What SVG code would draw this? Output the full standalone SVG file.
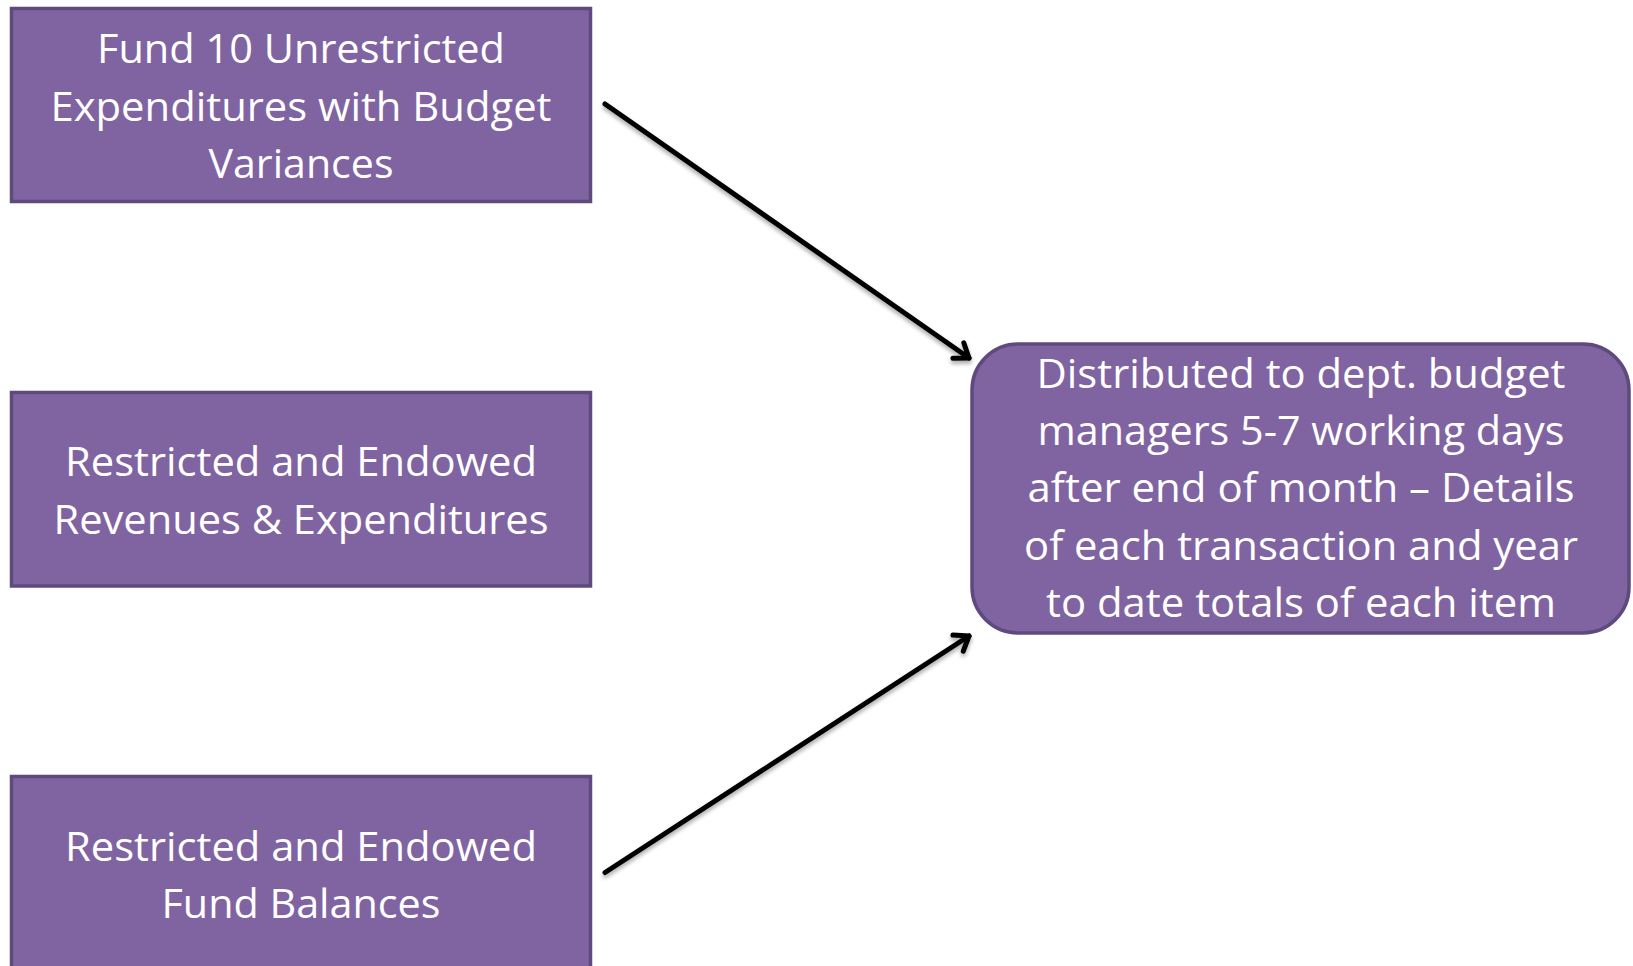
<svg xmlns="http://www.w3.org/2000/svg" width="1633" height="966" viewBox="0 0 1633 966">
<style>
.box{fill:#8064A2;stroke:#5F4A7D;stroke-width:3.5}
.t{font-family:"Open Sans","Noto Sans",sans-serif;font-size:41px;fill:#FFFFFF;text-anchor:middle}
.c{stroke:#000;stroke-width:5;fill:none;stroke-linecap:round;marker-end:url(#ah);filter:url(#sh)}
</style>
<defs>
<marker id="ah" markerUnits="userSpaceOnUse" viewBox="-20 -14 24 28" markerWidth="24" markerHeight="28" refX="0" refY="0" orient="auto">
<path d="M-13,-9.5 L0,0 L-13,9.5" fill="none" stroke="#000" stroke-width="5" stroke-linecap="round" stroke-linejoin="round"/>
</marker>
<filter id="sh" x="-10%" y="-10%" width="120%" height="130%">
<feGaussianBlur in="SourceAlpha" stdDeviation="2"/>
<feOffset dx="0" dy="3" result="b"/>
<feComponentTransfer><feFuncA type="linear" slope="0.35"/></feComponentTransfer>
<feMerge><feMergeNode/><feMergeNode in="SourceGraphic"/></feMerge>
</filter>
</defs>
<rect width="1633" height="966" fill="#FFFFFF"/>
<g id="n1">
<rect class="box" x="11.5" y="8.5" width="579" height="193"/>
<text class="t" x="301" y="63" textLength="408" lengthAdjust="spacingAndGlyphs">Fund 10 Unrestricted</text>
<text class="t" x="301" y="120.5" textLength="501" lengthAdjust="spacingAndGlyphs">Expenditures with Budget</text>
<text class="t" x="301" y="177.5" textLength="185" lengthAdjust="spacingAndGlyphs">Variances</text>
</g>
<g id="n2">
<rect class="box" x="11.5" y="392.5" width="579" height="193.5"/>
<text class="t" x="301" y="476" textLength="472" lengthAdjust="spacingAndGlyphs">Restricted and Endowed</text>
<text class="t" x="301" y="533.5" textLength="495" lengthAdjust="spacingAndGlyphs">Revenues &amp; Expenditures</text>
</g>
<g id="n3">
<rect class="box" x="11.5" y="776.5" width="579" height="200"/>
<text class="t" x="301" y="860.5" textLength="472" lengthAdjust="spacingAndGlyphs">Restricted and Endowed</text>
<text class="t" x="301" y="917.5" textLength="279" lengthAdjust="spacingAndGlyphs">Fund Balances</text>
</g>
<g id="n4">
<rect class="box" x="972" y="344" width="657" height="289" rx="46" ry="46"/>
<text class="t" x="1301" y="387.5" textLength="529" lengthAdjust="spacingAndGlyphs">Distributed to dept. budget</text>
<text class="t" x="1301" y="444.5" textLength="527" lengthAdjust="spacingAndGlyphs">managers 5-7 working days</text>
<text class="t" x="1301" y="502" textLength="547" lengthAdjust="spacingAndGlyphs">after end of month – Details</text>
<text class="t" x="1301" y="559.5" textLength="554" lengthAdjust="spacingAndGlyphs">of each transaction and year</text>
<text class="t" x="1301" y="616.5" textLength="510" lengthAdjust="spacingAndGlyphs">to date totals of each item</text>
</g>
<g id="connectors">
<line class="c" x1="605" y1="104" x2="969" y2="358"/>
<line class="c" x1="605" y1="489.5" x2="938" y2="489.5"/>
<line class="c" x1="605" y1="872.5" x2="969" y2="636"/>
</g>
</svg>
